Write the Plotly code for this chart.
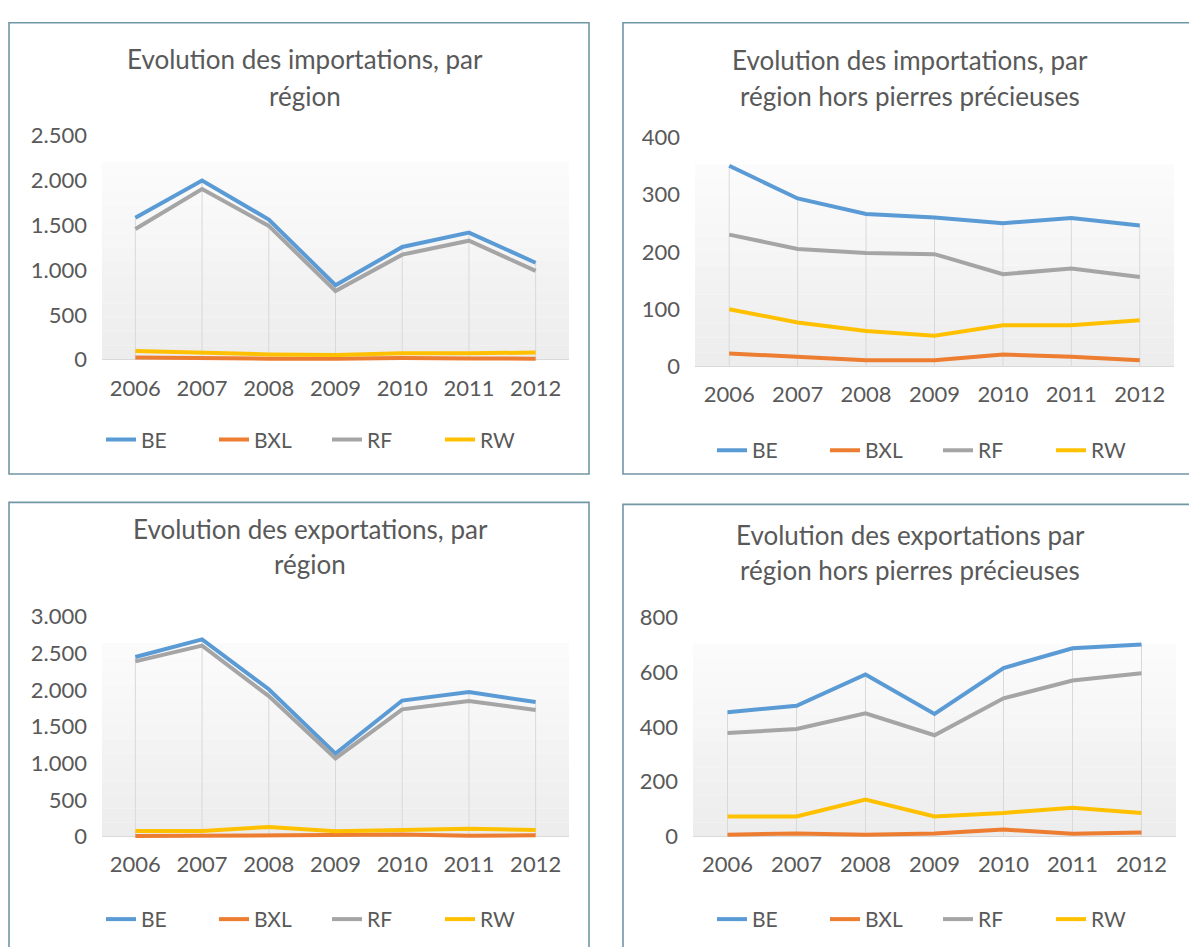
import plotly.graph_objects as go

# ---------------- data ----------------
years = ["2006", "2007", "2008", "2009", "2010", "2011", "2012"]
series_names = ["BE", "BXL", "RF", "RW"]
series_colors = ["#5B9BD5", "#ED7D31", "#A5A5A5", "#FFC000"]

# Evolution des importations, par région
imp_be = [1580, 1995, 1560, 830, 1255, 1415, 1080]
imp_bxl = [25, 15, 12, 12, 20, 15, 12]
imp_rf = [1455, 1900, 1490, 765, 1170, 1325, 990]
imp_rw = [98, 75, 60, 53, 72, 72, 80]

# Evolution des importations, par région hors pierres précieuses
imp_hp_be = [350, 293, 266, 260, 250, 259, 246]
imp_hp_bxl = [23, 17, 11, 11, 21, 17, 11]
imp_hp_rf = [230, 205, 198, 196, 161, 171, 156]
imp_hp_rw = [100, 77, 62, 54, 72, 72, 81]

# Evolution des exportations, par région
exp_be = [2450, 2690, 2010, 1130, 1855, 1970, 1835]
exp_bxl = [5, 10, 5, 8, 25, 8, 15]
exp_rf = [2390, 2605, 1915, 1065, 1735, 1850, 1725]
exp_rw = [75, 75, 130, 72, 88, 105, 88]

# Evolution des exportations par région hors pierres précieuses
exp_hp_be = [454, 478, 592, 448, 616, 688, 702]
exp_hp_bxl = [6, 11, 6, 11, 25, 10, 14]
exp_hp_rf = [378, 393, 450, 370, 505, 570, 597]
exp_hp_rw = [73, 73, 135, 73, 86, 105, 86]

titles = [
    ["Evolution des importations, par", "région"],
    ["Evolution des importations, par", "région hors pierres précieuses"],
    ["Evolution des exportations, par", "région"],
    ["Evolution des exportations par", "région hors pierres précieuses"],
]
y_max = [2500, 400, 3000, 800]
y_step = [500, 100, 500, 200]

panel_data = [
    [imp_be, imp_bxl, imp_rf, imp_rw],
    [imp_hp_be, imp_hp_bxl, imp_hp_rf, imp_hp_rw],
    [exp_be, exp_bxl, exp_rf, exp_rw],
    [exp_hp_be, exp_hp_bxl, exp_hp_rf, exp_hp_rw],
]

# ---------------- layout (pixels) ----------------
W, H = 1189, 947
FONT = "Lato"
TXT = "#595959"
BORDER = "#7097a6"

geo = [
    dict(box=(9, 9, 589, 471), xl=102, xr=569, y0=354, yt=124,
         tx=305, ty=(46, 84), lx=327, ly=436, ew=68),
    dict(box=(623, 9, 1200, 471), xl=695, xr=1174, y0=361, yt=126,
         tx=910, ty=(47, 84), lx=938, ly=447, ew=68),
    dict(box=(9, 500, 589, 960), xl=102, xr=569, y0=842, yt=617,
         tx=310, ty=(527, 563), lx=327, ly=927, ew=68),
    dict(box=(623, 502, 1200, 960), xl=693, xr=1176, y0=842, yt=618,
         tx=910, ty=(533, 569), lx=938, ly=927, ew=68),
]

fig = go.Figure()
shapes = []
annotations = []
layout_axes = {}
PAD = 5

for p in range(4):
    g = geo[p]
    n = "" if p == 0 else str(p + 1)
    xa, ya = "x" + n, "y" + n
    leg = "legend" + n
    ymax = y_max[p]
    upp = ymax / (g["y0"] - g["yt"])
    ymin = -PAD * upp

    layout_axes["xaxis" + n] = dict(
        domain=[g["xl"] / W, g["xr"] / W], anchor=ya, type="category",
        range=[-0.5, 6.5], showgrid=False, zeroline=False, showline=False,
        ticks="", tickfont=dict(family=FONT, size=22, color=TXT),
        ticklabelstandoff=8, fixedrange=True,
    )
    layout_axes["yaxis" + n] = dict(
        domain=[1 - (g["y0"] + PAD) / H, 1 - g["yt"] / H], anchor=xa,
        range=[ymin, ymax], tick0=0, dtick=y_step[p], tickformat=",d",
        showgrid=False, zeroline=True, zerolinecolor="#d9d9d9", zerolinewidth=1,
        showline=False, ticks="", tickfont=dict(family=FONT, size=22, color=TXT),
        ticklabelstandoff=14, fixedrange=True,
    )

    nstrip = 14
    top = 0.88 * ymax
    for k in range(nstrip):
        c = int(252 - (252 - 237) * (k + 0.5) / nstrip)
        shapes.append(dict(
            type="rect", xref=xa + " domain", yref=ya, x0=0, x1=1,
            y0=top * (1 - (k + 1) / nstrip), y1=top * (1 - k / nstrip),
            fillcolor=f"rgb({c},{c},{c})", line=dict(width=0), layer="below"))

    bx0, by0, bx1, by1 = g["box"]
    shapes.append(dict(type="rect", xref="paper", yref="paper",
                       x0=bx0 / W, x1=bx1 / W, y0=1 - by1 / H, y1=1 - by0 / H,
                       line=dict(color=BORDER, width=1.6), fillcolor="rgba(0,0,0,0)",
                       layer="above"))

    vals = panel_data[p]
    dx, dy = [], []
    for i, yr in enumerate(years):
        dx += [yr, yr, None]
        dy += [0, max(s[i] for s in vals), None]
    fig.add_trace(go.Scatter(x=dx, y=dy, mode="lines", xaxis=xa, yaxis=ya,
                             line=dict(color="#d9d9d9", width=1),
                             showlegend=False, hoverinfo="skip"))

    for s, name in enumerate(series_names):
        fig.add_trace(go.Scatter(
            x=years, y=vals[s], mode="lines", name=name,
            xaxis=xa, yaxis=ya, legend=leg,
            line=dict(color=series_colors[s], width=4)))

    layout_axes[leg] = dict(
        orientation="h", x=g["lx"] / W, y=1 - g["ly"] / H,
        xanchor="center", yanchor="middle", bgcolor="rgba(0,0,0,0)",
        font=dict(family=FONT, size=21, color=TXT),
        entrywidth=g["ew"], entrywidthmode="pixels", itemwidth=30,
    )

    for li, line in enumerate(titles[p]):
        annotations.append(dict(
            text=line, xref="paper", yref="paper", x=g["tx"] / W,
            y=1 - g["ty"][li] / H, xanchor="center", yanchor="middle",
            showarrow=False, font=dict(family=FONT, size=26, color=TXT)))

fig.update_layout(
    width=W, height=H, autosize=False,
    margin=dict(l=0, r=0, t=0, b=0),
    paper_bgcolor="white", plot_bgcolor="rgba(0,0,0,0)",
    separators=",.",
    shapes=shapes, annotations=annotations,
    font=dict(family=FONT, color=TXT),
    **layout_axes,
)

fig.write_html(
    "out.html",
    config={"displayModeBar": False},
    post_script="document.body.style.margin='0';document.body.style.overflow='hidden';",
)
